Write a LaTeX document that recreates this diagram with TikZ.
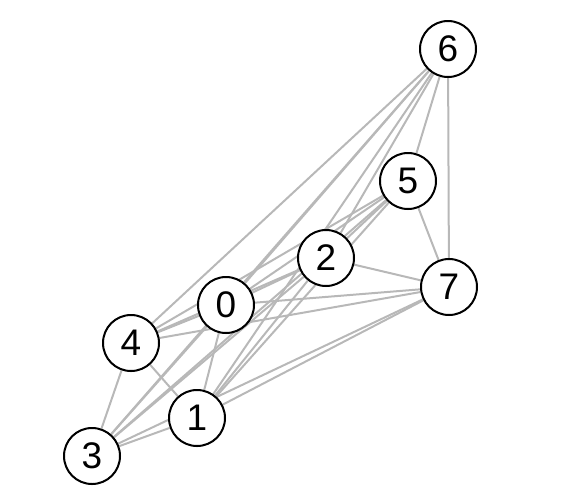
\documentclass[tikz,border=0pt]{standalone}
\usepackage{fontspec}
\setmainfont{Liberation Sans}
\usetikzlibrary{backgrounds}
\begin{document}
\begin{tikzpicture}[x=1pt,y=-1pt,
  vtx/.style={circle,draw=black,line width=2pt,fill=white,minimum size=56pt,inner sep=0pt,font=\fontsize{37}{37}\selectfont},
  edge/.style={draw=black!28,line width=2pt}]
\useasboundingbox (0,0) rectangle (569,499);
\node[vtx] (n0) at (226,305) {0};
\node[vtx] (n1) at (197,418) {1};
\node[vtx] (n2) at (326,258) {2};
\node[vtx] (n3) at (92,456) {3};
\node[vtx] (n4) at (131,343) {4};
\node[vtx] (n5) at (408,181) {5};
\node[vtx] (n6) at (448,49) {6};
\node[vtx] (n7) at (449,287) {7};
\begin{pgfonlayer}{background}
\foreach \i in {0,...,6} {
  \pgfmathtruncatemacro\nxt{\i+1}
  \foreach \j in {\nxt,...,7} {
    \draw[edge] (n\i) -- (n\j);
  }
}
\end{pgfonlayer}
\end{tikzpicture}
\end{document}
